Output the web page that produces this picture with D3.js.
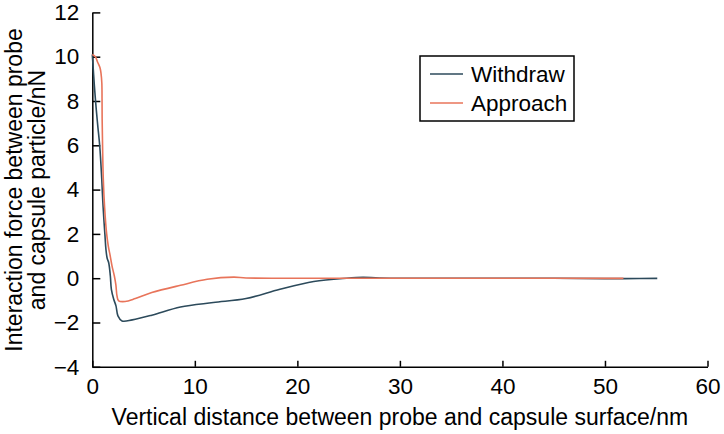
<!DOCTYPE html>
<html>
<head>
<meta charset="utf-8">
<script src="https://cdn.jsdelivr.net/npm/d3@7"></script>
<style>
  html, body { margin: 0; padding: 0; background: #fff; }
  svg { display: block; font-family: "Liberation Sans", Arial, sans-serif; }
  .tick text { font-size: 22.5px; fill: #000; }
  .axis-title { font-size: 23px; fill: #000; }
  .legend-text { font-size: 22.5px; fill: #000; }
</style>
</head>
<body>
<svg id="chart" width="724" height="434"></svg>
<script>
// Withdraw curve, [distance nm, force nN]
const withdrawX = [0, 0.1, 0.2, 0.39, 0.55, 0.72, 0.92, 1.02, 1.15, 1.24, 1.33, 1.45, 1.6, 1.76, 1.86, 2.09, 2.31, 2.5, 2.9, 3.9, 5.8, 8.6, 11.8, 15, 18.3, 21.6, 24.8, 26.4, 28, 35, 45, 50, 52, 55.1];
const withdrawY = [10.1, 9.4, 8.7, 7.6, 6.8, 6.0, 4.5, 3.5, 2.5, 1.9, 1.3, 0.9, 0.7, 0.1, -0.5, -0.95, -1.25, -1.7, -1.93, -1.88, -1.67, -1.3, -1.1, -0.92, -0.5, -0.15, 0, 0.04, 0.01, 0, 0, -0.02, -0.02, -0.01];

// Approach curve
const approachX = [0, 0.3, 0.52, 0.75, 0.85, 0.93, 0.95, 0.96, 1.0, 1.07, 1.2, 1.4, 1.56, 1.75, 1.92, 2.15, 2.3, 2.41, 2.57, 3.2, 4.2, 5.8, 8.6, 11.2, 13.8, 15, 20, 30, 40, 51.8];
const approachY = [10.1, 10.0, 9.75, 9.5, 9.25, 8.8, 8.1, 7.2, 6.0, 4.5, 3.2, 2.0, 1.45, 1.0, 0.56, 0.1, -0.3, -0.8, -1.02, -1.05, -0.92, -0.65, -0.32, -0.05, 0.05, 0.01, 0, 0, 0, -0.01];

const xTicks = [0, 10, 20, 30, 40, 50, 60];
const yTicks = [-4, -2, 0, 2, 4, 6, 8, 10, 12];

const seriesNames = ['Withdraw', 'Approach'];
const seriesColors = ['#2c4a5b', '#e8745a'];

const margin = { left: 92.3, right: 16.5, top: 12.4, bottom: 67.2 };
const width = 724, height = 434;

const svg = d3.select('#chart');

const x = d3.scaleLinear().domain([0, 60]).range([margin.left, width - margin.right]);
const y = d3.scaleLinear().domain([-4, 12]).range([height - margin.bottom, margin.top]);

// Axes with inward ticks
const xAxis = svg.append('g')
  .attr('transform', `translate(0,${y(-4)})`)
  .call(d3.axisBottom(x).tickValues(xTicks).tickSizeInner(-6).tickSizeOuter(0).tickPadding(11));
xAxis.selectAll('.tick text').attr('dy', '0.71em');

const yAxis = svg.append('g')
  .attr('transform', `translate(${x(0)},0)`)
  .call(d3.axisLeft(y).tickValues(yTicks).tickSizeInner(-8).tickSizeOuter(0).tickPadding(13)
    .tickFormat(d => d < 0 ? '\u2212' + Math.abs(d) : d));

svg.selectAll('.domain').attr('stroke', '#000').attr('stroke-width', 1.5);
svg.selectAll('.tick line').attr('stroke', '#000').attr('stroke-width', 1.5);

// Curves
const line = d3.line()
  .x(d => x(d[0]))
  .y(d => y(d[1]))
  .curve(d3.curveCatmullRom.alpha(0.5));

const withdraw = withdrawX.map((v, i) => [v, withdrawY[i]]);
const approach = approachX.map((v, i) => [v, approachY[i]]);

svg.append('path')
  .datum(withdraw)
  .attr('fill', 'none')
  .attr('stroke', seriesColors[0])
  .attr('stroke-width', 1.6)
  .attr('d', line);

svg.append('path')
  .datum(approach)
  .attr('fill', 'none')
  .attr('stroke', seriesColors[1])
  .attr('stroke-width', 1.6)
  .attr('d', line);

// Axis titles
svg.append('text')
  .attr('class', 'axis-title')
  .attr('x', (x(0) + x(60)) / 2)
  .attr('y', 425)
  .attr('text-anchor', 'middle')
  .text('Vertical distance between probe and capsule surface/nm');

const yTitle = svg.append('text')
  .attr('class', 'axis-title')
  .attr('transform', 'translate(0,190) rotate(-90)')
  .attr('text-anchor', 'middle');
yTitle.append('tspan').attr('x', 0).attr('y', 22).text('Interaction force between probe');
yTitle.append('tspan').attr('x', 0).attr('y', 45).text('and capsule particle/nN');

// Legend
const legend = svg.append('g').attr('transform', 'translate(420,56)');
legend.append('rect')
  .attr('width', 154).attr('height', 65)
  .attr('fill', '#fff').attr('stroke', '#000').attr('stroke-width', 1.5);

seriesNames.forEach((name, i) => {
  const ly = 18 + i * 29;
  legend.append('line')
    .attr('x1', 10).attr('x2', 43)
    .attr('y1', ly).attr('y2', ly)
    .attr('stroke', seriesColors[i]).attr('stroke-width', 1.6);
  legend.append('text')
    .attr('class', 'legend-text')
    .attr('x', 51).attr('y', ly + 8)
    .text(name);
});
</script>
</body>
</html>
